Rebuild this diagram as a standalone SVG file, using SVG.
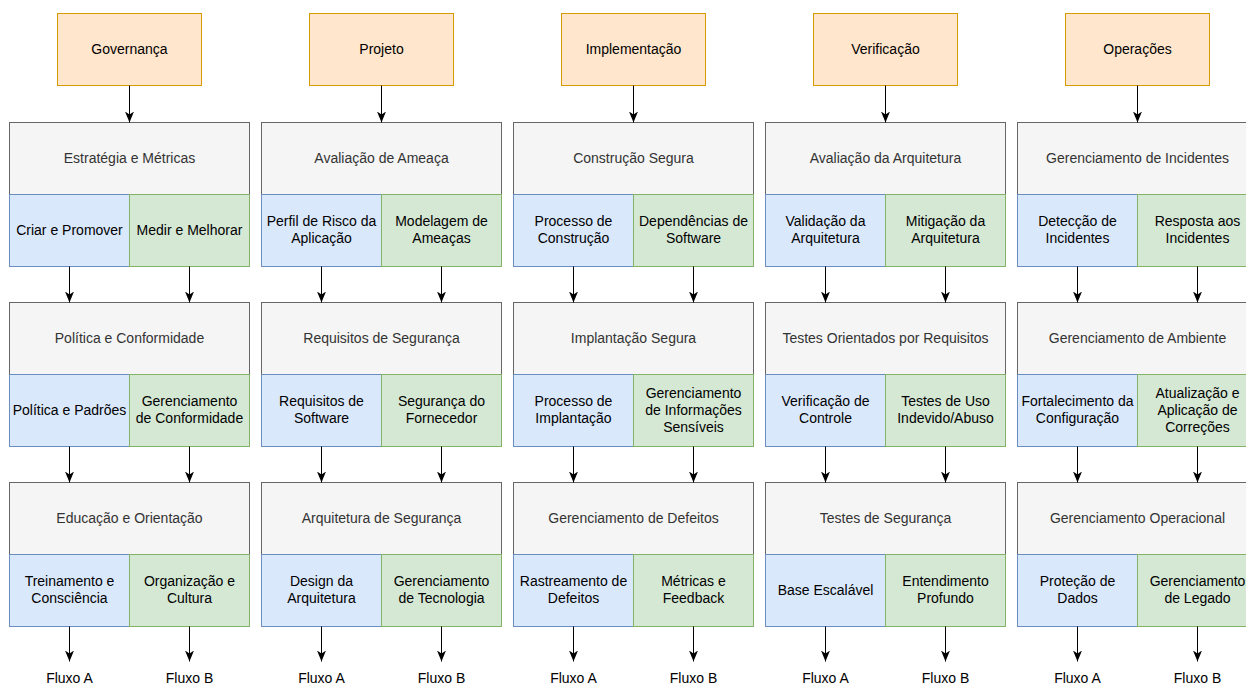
<svg xmlns="http://www.w3.org/2000/svg" width="1246" height="684" viewBox="0 0 1246 684">
<style>
.hdr{fill:#ffe6cc;stroke:#d79b00;stroke-width:1}
.gry{fill:#f5f5f5;stroke:#666666;stroke-width:1}
.blu{fill:#dae8fc;stroke:#6c8ebf;stroke-width:1}
.grn{fill:#d5e8d4;stroke:#82b366;stroke-width:1}
text{font-family:"Liberation Sans",Arial,Helvetica,sans-serif;font-size:14px;text-anchor:middle;fill:#000000}
text.g{fill:#333333}
.edge{fill:none;stroke:#000000;stroke-width:1;marker-end:url(#arr)}
</style>
<defs>
<marker id="arr" viewBox="0 -5 11 10" refX="11" refY="0" markerWidth="11" markerHeight="10" markerUnits="userSpaceOnUse" orient="auto">
<path d="M0,-4.5 L11,0 L0,4.5 L3,0 Z" fill="#000000" stroke="none"/>
</marker>
</defs>
<rect x="0" y="0" width="1246" height="684" fill="#ffffff"/>
<g transform="translate(0.5,0.5)">
<!-- Column 1: Governança -->
<g id="governanca"><rect class="hdr" x="57" y="13" width="144" height="72"/><text x="129" y="53.5">Governança</text></g>
<g id="estrategia-metricas"><rect class="gry" x="9" y="122" width="240" height="72"/><text class="g" x="129" y="162.5">Estratégia e Métricas</text></g>
<g id="criar-promover"><rect class="blu" x="9" y="194" width="120" height="72"/><text x="69" y="234.5">Criar e Promover</text></g>
<g id="medir-melhorar"><rect class="grn" x="129" y="194" width="120" height="72"/><text x="189" y="234.5">Medir e Melhorar</text></g>
<g id="politica-conformidade"><rect class="gry" x="9" y="302" width="240" height="72"/><text class="g" x="129" y="342.5">Política e Conformidade</text></g>
<g id="politica-padroes"><rect class="blu" x="9" y="374" width="120" height="72"/><text x="69" y="414.5">Política e Padrões</text></g>
<g id="gerenciamento-conformidade"><rect class="grn" x="129" y="374" width="120" height="72"/><text x="189" y="405.5">Gerenciamento<tspan x="189" y="422.5">de Conformidade</tspan></text></g>
<g id="educacao-orientacao"><rect class="gry" x="9" y="482" width="240" height="72"/><text class="g" x="129" y="522.5">Educação e Orientação</text></g>
<g id="treinamento-consciencia"><rect class="blu" x="9" y="554" width="120" height="72"/><text x="69" y="585.5">Treinamento e<tspan x="69" y="602.5">Consciência</tspan></text></g>
<g id="organizacao-cultura"><rect class="grn" x="129" y="554" width="120" height="72"/><text x="189" y="585.5">Organização e<tspan x="189" y="602.5">Cultura</tspan></text></g>
<g id="fluxo-a-1"><text x="69" y="682.5">Fluxo A</text></g>
<g id="fluxo-b-1"><text x="189" y="682.5">Fluxo B</text></g>

<!-- Column 2: Projeto -->
<g id="projeto"><rect class="hdr" x="309" y="13" width="144" height="72"/><text x="381" y="53.5">Projeto</text></g>
<g id="avaliacao-ameaca"><rect class="gry" x="261" y="122" width="240" height="72"/><text class="g" x="381" y="162.5">Avaliação de Ameaça</text></g>
<g id="perfil-risco"><rect class="blu" x="261" y="194" width="120" height="72"/><text x="321" y="225.5">Perfil de Risco da<tspan x="321" y="242.5">Aplicação</tspan></text></g>
<g id="modelagem-ameacas"><rect class="grn" x="381" y="194" width="120" height="72"/><text x="441" y="225.5">Modelagem de<tspan x="441" y="242.5">Ameaças</tspan></text></g>
<g id="requisitos-seguranca"><rect class="gry" x="261" y="302" width="240" height="72"/><text class="g" x="381" y="342.5">Requisitos de Segurança</text></g>
<g id="requisitos-software"><rect class="blu" x="261" y="374" width="120" height="72"/><text x="321" y="405.5">Requisitos de<tspan x="321" y="422.5">Software</tspan></text></g>
<g id="seguranca-fornecedor"><rect class="grn" x="381" y="374" width="120" height="72"/><text x="441" y="405.5">Segurança do<tspan x="441" y="422.5">Fornecedor</tspan></text></g>
<g id="arquitetura-seguranca"><rect class="gry" x="261" y="482" width="240" height="72"/><text class="g" x="381" y="522.5">Arquitetura de Segurança</text></g>
<g id="design-arquitetura"><rect class="blu" x="261" y="554" width="120" height="72"/><text x="321" y="585.5">Design da<tspan x="321" y="602.5">Arquitetura</tspan></text></g>
<g id="gerenciamento-tecnologia"><rect class="grn" x="381" y="554" width="120" height="72"/><text x="441" y="585.5">Gerenciamento<tspan x="441" y="602.5">de Tecnologia</tspan></text></g>
<g id="fluxo-a-2"><text x="321" y="682.5">Fluxo A</text></g>
<g id="fluxo-b-2"><text x="441" y="682.5">Fluxo B</text></g>

<!-- Column 3: Implementação -->
<g id="implementacao"><rect class="hdr" x="561" y="13" width="144" height="72"/><text x="633" y="53.5">Implementação</text></g>
<g id="construcao-segura"><rect class="gry" x="513" y="122" width="240" height="72"/><text class="g" x="633" y="162.5">Construção Segura</text></g>
<g id="processo-construcao"><rect class="blu" x="513" y="194" width="120" height="72"/><text x="573" y="225.5">Processo de<tspan x="573" y="242.5">Construção</tspan></text></g>
<g id="dependencias-software"><rect class="grn" x="633" y="194" width="120" height="72"/><text x="693" y="225.5">Dependências de<tspan x="693" y="242.5">Software</tspan></text></g>
<g id="implantacao-segura"><rect class="gry" x="513" y="302" width="240" height="72"/><text class="g" x="633" y="342.5">Implantação Segura</text></g>
<g id="processo-implantacao"><rect class="blu" x="513" y="374" width="120" height="72"/><text x="573" y="405.5">Processo de<tspan x="573" y="422.5">Implantação</tspan></text></g>
<g id="gerenciamento-informacoes"><rect class="grn" x="633" y="374" width="120" height="72"/><text x="693" y="397">Gerenciamento<tspan x="693" y="414">de Informações</tspan><tspan x="693" y="431">Sensíveis</tspan></text></g>
<g id="gerenciamento-defeitos"><rect class="gry" x="513" y="482" width="240" height="72"/><text class="g" x="633" y="522.5">Gerenciamento de Defeitos</text></g>
<g id="rastreamento-defeitos"><rect class="blu" x="513" y="554" width="120" height="72"/><text x="573" y="585.5">Rastreamento de<tspan x="573" y="602.5">Defeitos</tspan></text></g>
<g id="metricas-feedback"><rect class="grn" x="633" y="554" width="120" height="72"/><text x="693" y="585.5">Métricas e<tspan x="693" y="602.5">Feedback</tspan></text></g>
<g id="fluxo-a-3"><text x="573" y="682.5">Fluxo A</text></g>
<g id="fluxo-b-3"><text x="693" y="682.5">Fluxo B</text></g>

<!-- Column 4: Verificação -->
<g id="verificacao"><rect class="hdr" x="813" y="13" width="144" height="72"/><text x="885" y="53.5">Verificação</text></g>
<g id="avaliacao-arquitetura"><rect class="gry" x="765" y="122" width="240" height="72"/><text class="g" x="885" y="162.5">Avaliação da Arquitetura</text></g>
<g id="validacao-arquitetura"><rect class="blu" x="765" y="194" width="120" height="72"/><text x="825" y="225.5">Validação da<tspan x="825" y="242.5">Arquitetura</tspan></text></g>
<g id="mitigacao-arquitetura"><rect class="grn" x="885" y="194" width="120" height="72"/><text x="945" y="225.5">Mitigação da<tspan x="945" y="242.5">Arquitetura</tspan></text></g>
<g id="testes-requisitos"><rect class="gry" x="765" y="302" width="240" height="72"/><text class="g" x="885" y="342.5">Testes Orientados por Requisitos</text></g>
<g id="verificacao-controle"><rect class="blu" x="765" y="374" width="120" height="72"/><text x="825" y="405.5">Verificação de<tspan x="825" y="422.5">Controle</tspan></text></g>
<g id="testes-uso-indevido"><rect class="grn" x="885" y="374" width="120" height="72"/><text x="945" y="405.5">Testes de Uso<tspan x="945" y="422.5">Indevido/Abuso</tspan></text></g>
<g id="testes-seguranca"><rect class="gry" x="765" y="482" width="240" height="72"/><text class="g" x="885" y="522.5">Testes de Segurança</text></g>
<g id="base-escalavel"><rect class="blu" x="765" y="554" width="120" height="72"/><text x="825" y="594.5">Base Escalável</text></g>
<g id="entendimento-profundo"><rect class="grn" x="885" y="554" width="120" height="72"/><text x="945" y="585.5">Entendimento<tspan x="945" y="602.5">Profundo</tspan></text></g>
<g id="fluxo-a-4"><text x="825" y="682.5">Fluxo A</text></g>
<g id="fluxo-b-4"><text x="945" y="682.5">Fluxo B</text></g>

<!-- Column 5: Operações -->
<g id="operacoes"><rect class="hdr" x="1065" y="13" width="144" height="72"/><text x="1137" y="53.5">Operações</text></g>
<g id="gerenciamento-incidentes"><rect class="gry" x="1017" y="122" width="240" height="72"/><text class="g" x="1137" y="162.5">Gerenciamento de Incidentes</text></g>
<g id="deteccao-incidentes"><rect class="blu" x="1017" y="194" width="120" height="72"/><text x="1077" y="225.5">Detecção de<tspan x="1077" y="242.5">Incidentes</tspan></text></g>
<g id="resposta-incidentes"><rect class="grn" x="1137" y="194" width="120" height="72"/><text x="1197" y="225.5">Resposta aos<tspan x="1197" y="242.5">Incidentes</tspan></text></g>
<g id="gerenciamento-ambiente"><rect class="gry" x="1017" y="302" width="240" height="72"/><text class="g" x="1137" y="342.5">Gerenciamento de Ambiente</text></g>
<g id="fortalecimento-configuracao"><rect class="blu" x="1017" y="374" width="120" height="72"/><text x="1077" y="405.5">Fortalecimento da<tspan x="1077" y="422.5">Configuração</tspan></text></g>
<g id="atualizacao-correcoes"><rect class="grn" x="1137" y="374" width="120" height="72"/><text x="1197" y="397">Atualização e<tspan x="1197" y="414">Aplicação de</tspan><tspan x="1197" y="431">Correções</tspan></text></g>
<g id="gerenciamento-operacional"><rect class="gry" x="1017" y="482" width="240" height="72"/><text class="g" x="1137" y="522.5">Gerenciamento Operacional</text></g>
<g id="protecao-dados"><rect class="blu" x="1017" y="554" width="120" height="72"/><text x="1077" y="585.5">Proteção de<tspan x="1077" y="602.5">Dados</tspan></text></g>
<g id="gerenciamento-legado"><rect class="grn" x="1137" y="554" width="120" height="72"/><text x="1197" y="585.5">Gerenciamento<tspan x="1197" y="602.5">de Legado</tspan></text></g>
<g id="fluxo-a-5"><text x="1077" y="682.5">Fluxo A</text></g>
<g id="fluxo-b-5"><text x="1197" y="682.5">Fluxo B</text></g>

<!-- Connectors -->
<g id="connectors">
<path class="edge" d="M129,85 V122"/>
<path class="edge" d="M381,85 V122"/>
<path class="edge" d="M633,85 V122"/>
<path class="edge" d="M885,85 V122"/>
<path class="edge" d="M1137,85 V122"/>
<path class="edge" d="M69,266 V302"/><path class="edge" d="M189,266 V302"/>
<path class="edge" d="M321,266 V302"/><path class="edge" d="M441,266 V302"/>
<path class="edge" d="M573,266 V302"/><path class="edge" d="M693,266 V302"/>
<path class="edge" d="M825,266 V302"/><path class="edge" d="M945,266 V302"/>
<path class="edge" d="M1077,266 V302"/><path class="edge" d="M1197,266 V302"/>
<path class="edge" d="M69,446 V482"/><path class="edge" d="M189,446 V482"/>
<path class="edge" d="M321,446 V482"/><path class="edge" d="M441,446 V482"/>
<path class="edge" d="M573,446 V482"/><path class="edge" d="M693,446 V482"/>
<path class="edge" d="M825,446 V482"/><path class="edge" d="M945,446 V482"/>
<path class="edge" d="M1077,446 V482"/><path class="edge" d="M1197,446 V482"/>
<path class="edge" d="M69,626 V661"/><path class="edge" d="M189,626 V661"/>
<path class="edge" d="M321,626 V661"/><path class="edge" d="M441,626 V661"/>
<path class="edge" d="M573,626 V661"/><path class="edge" d="M693,626 V661"/>
<path class="edge" d="M825,626 V661"/><path class="edge" d="M945,626 V661"/>
<path class="edge" d="M1077,626 V661"/><path class="edge" d="M1197,626 V661"/>
</g>
</g>
</svg>
